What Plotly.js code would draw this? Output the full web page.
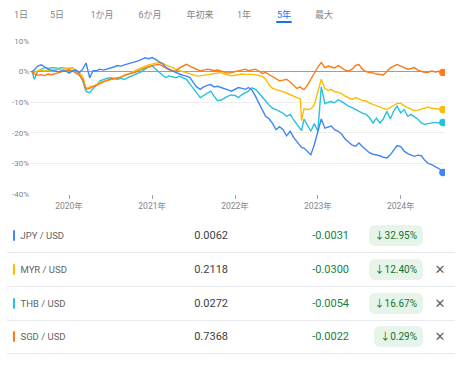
<!DOCTYPE html>
<html><head><meta charset="utf-8">
<script src="https://cdn.plot.ly/plotly-3.0.1.min.js"></script>
<style>
html,body{margin:0;padding:0;background:#fff;width:458px;height:372px;overflow:hidden;font-family:Roboto,'Noto Sans CJK JP',sans-serif;}
#chart{position:absolute;left:0;top:0;width:458px;height:220px;}
.tab{position:absolute;top:9px;font-size:9px;line-height:12px;color:#80868b;transform:translateX(-50%);white-space:nowrap;}
.tab.active{color:#1a73e8;}
#uline{position:absolute;left:276px;top:21px;width:16px;height:2px;background:#1a73e8;border-radius:1px;}
.row{position:absolute;left:7px;width:448px;height:33px;border-bottom:1px solid #e8eaed;}
.bar{position:absolute;left:6px;top:11px;width:2px;height:11px;border-radius:1px;}
.lab{position:absolute;left:13.5px;top:0;line-height:33px;font-size:9.5px;color:#5f6368;}
.price{position:absolute;right:227px;top:0;line-height:33px;font-size:11px;color:#3c4043;}
.chg{position:absolute;right:106px;top:0;line-height:33px;font-size:11px;color:#188038;}
.pill{position:absolute;right:32px;top:6px;height:21px;line-height:21px;padding:0 6px;background:#e6f4ea;border-radius:6px;font-size:10px;color:#137333;white-space:nowrap;}
.x{position:absolute;left:427px;width:12px;top:0;line-height:33px;text-align:center;font-size:13px;color:#5f6368;font-family:'DejaVu Sans',sans-serif;}
</style>
</head><body>
<div id="chart"></div>
<div id="tabs"></div>
<div id="uline"></div>
<div id="table"></div>
<script>
// ---- data ----
const dates = [
'2019-07-22','2019-08-01','2019-08-16','2019-09-01','2019-09-16','2019-10-01','2019-10-16','2019-11-01','2019-11-16','2019-12-01','2019-12-16',
'2020-01-01','2020-01-16','2020-02-01','2020-02-16','2020-03-01','2020-03-16','2020-04-01','2020-04-16','2020-05-01','2020-05-16','2020-06-01','2020-06-16','2020-07-01','2020-07-16','2020-08-01','2020-08-16','2020-09-01','2020-09-16','2020-10-01','2020-10-16','2020-11-01','2020-11-16','2020-12-01','2020-12-16',
'2021-01-01','2021-01-16','2021-02-01','2021-02-16','2021-03-01','2021-03-16','2021-04-01','2021-04-16','2021-05-01','2021-05-16','2021-06-01','2021-06-16','2021-07-01','2021-07-16','2021-08-01','2021-08-16','2021-09-01','2021-09-16','2021-10-01','2021-10-16','2021-11-01','2021-11-16','2021-12-01','2021-12-16',
'2022-01-01','2022-01-16','2022-02-01','2022-02-16','2022-03-01','2022-03-16','2022-04-01','2022-04-16','2022-05-01','2022-05-16','2022-06-01','2022-06-16','2022-07-01','2022-07-16','2022-08-01','2022-08-16','2022-09-01','2022-09-16','2022-10-01','2022-10-16','2022-10-21','2022-11-01','2022-11-16','2022-12-01','2022-12-16',
'2023-01-01','2023-01-16','2023-02-01','2023-02-16','2023-03-01','2023-03-16','2023-04-01','2023-04-16','2023-05-01','2023-05-16','2023-06-01','2023-06-16','2023-07-01','2023-07-16','2023-08-01','2023-08-16','2023-09-01','2023-09-16','2023-10-01','2023-10-16','2023-11-01','2023-11-16','2023-12-01','2023-12-16',
'2024-01-01','2024-01-16','2024-02-01','2024-02-16','2024-03-01','2024-03-16','2024-04-01','2024-04-16','2024-05-01','2024-05-16','2024-06-01','2024-06-16','2024-07-01','2024-07-05'
];
const jpy = [0,0.5,1.8,2.2,1.5,0.8,0.5,0.3,0,0.2,0.3,
-0.5,0.2,0.5,-0.3,0.8,2.8,-2.0,0.3,0.3,0.8,0.5,0.8,1.2,1.5,2.0,1.8,2.2,2.5,2.8,3.0,3.5,4.0,4.5,4.2,
4.6,4.0,3.2,2.5,1.5,0.8,0.2,-0.3,-0.8,-1.2,-1.5,-1.9,-3.5,-5.0,-5.8,-5.0,-4.5,-4.2,-5.0,-4.8,-5.2,-5.5,-6.0,-6.4,
-5.8,-5.2,-5.5,-5.8,-5.2,-6.0,-8.0,-10.5,-12.5,-14.6,-15.5,-17.0,-19.0,-18.0,-19.0,-21.0,-19.5,-21.5,-23.0,-24.4,-24.8,-25.0,-26.0,-27.2,-24.0,
-20.0,-15.5,-18.5,-18.0,-17.8,-19.0,-19.5,-20.5,-22.0,-23.0,-24.0,-24.4,-23.3,-24.5,-25.5,-26.5,-27.0,-27.2,-27.5,-28.0,-28.2,-27.2,-25.5,-24.2,
-24.5,-26.0,-26.8,-27.2,-27.7,-27.3,-27.5,-29.0,-30.0,-30.4,-31.0,-31.5,-32.3,-32.95];
const myr = [0,-0.3,0.3,0.5,0.2,0.5,0.3,0.6,0.8,0.5,1.0,
1.2,1.0,0.5,-0.5,-1.5,-5.5,-5.0,-4.8,-4.0,-3.5,-3.2,-3.0,-2.8,-2.5,-2.2,-1.8,-1.2,-0.8,-0.3,0.2,0.8,1.2,1.8,2.2,
2.4,2.8,3.0,2.8,2.2,1.8,1.2,0.8,0.3,0,-0.4,-0.9,-1.2,-1.4,-1.4,-1.2,-1.0,-0.9,-0.8,-0.5,-0.3,-0.8,-1.2,-1.4,
-1.2,-0.9,-0.8,-0.9,-0.8,-0.9,-1.0,-1.3,-1.6,-2.5,-4.5,-5.5,-5.8,-6.3,-6.6,-7.0,-7.5,-8.0,-8.5,-9.0,-16.0,-12.2,-12.4,-12.2,-11.0,
-7.0,-2.5,-5.5,-6.2,-5.8,-6.6,-6.8,-7.2,-8.0,-8.5,-9.1,-8.5,-9.0,-9.4,-9.6,-10.3,-10.7,-11.2,-11.6,-12.0,-12.4,-11.8,-11.0,-10.4,
-10.3,-11.2,-11.8,-12.4,-12.8,-12.6,-12.3,-11.8,-11.6,-12.0,-12.1,-12.2,-12.3,-12.4];
const thb = [0,-2.5,0.2,0.8,1.3,1.0,1.3,1.2,1.0,1.3,1.0,
0.8,1.2,0.3,-1.0,-3.0,-6.5,-6.9,-5.5,-4.5,-3.0,-2.5,-2.2,-2.0,-2.3,-2.5,-2.2,-2.6,-2.0,-1.5,-1.0,-0.5,0,0.8,1.5,
1.8,0.8,-0.3,-1.0,-2.0,-1.4,-1.8,-2.0,-1.5,-2.0,-2.5,-4.0,-5.5,-7.0,-8.5,-7.8,-7.0,-6.4,-8.0,-9.5,-9.3,-8.5,-8.0,-7.6,
-7.8,-8.5,-7.5,-6.9,-6.4,-5.3,-5.8,-7.0,-8.5,-9.6,-11.0,-12.0,-12.4,-13.0,-13.6,-14.6,-14.0,-15.7,-17.3,-19.0,-19.3,-15.5,-17.5,-19.5,-17.0,
-19.5,-5.0,-10.5,-10.0,-9.8,-10.2,-9.2,-9.8,-10.7,-11.3,-11.8,-12.4,-13.2,-13.6,-14.0,-15.0,-16.8,-15.2,-16.8,-15.5,-13.0,-15.5,-12.9,-11.3,
-13.5,-12.4,-14.6,-14.0,-14.8,-15.5,-16.8,-17.3,-17.0,-16.8,-16.6,-16.8,-16.7,-16.67];
const sgd = [0,-0.8,-1.2,-1.0,-1.3,-0.8,-1.0,-0.6,-0.3,0,0.3,
0.5,0.2,-0.5,-1.2,-2.5,-5.8,-5.5,-4.8,-4.5,-4.0,-3.2,-2.8,-2.5,-2.3,-2.0,-1.8,-1.2,-1.0,-0.6,-0.3,0.3,0.8,1.2,1.6,
2.0,2.2,2.4,1.8,1.2,0.6,0.3,0.2,1.2,1.8,2.4,1.8,1.2,0.6,0.2,0.5,0.8,0.6,0.3,0.5,0.2,-0.2,-0.5,-0.3,
0,0.3,0.5,0.8,0.3,0.5,0.8,0.2,-0.6,-0.3,-1.0,-1.5,-2.2,-3.0,-2.8,-2.5,-3.4,-4.5,-5.5,-5.0,-5.5,-5.8,-4.5,-2.5,-0.5,
1.5,3.0,1.3,1.8,1.5,1.2,2.0,1.3,0.5,0.2,0.8,2.0,2.3,0.8,0,-0.3,-0.4,-0.8,-1.0,-1.1,0,1.2,1.8,2.3,
1.8,1.3,0.8,1.0,1.3,0.5,0.2,-0.3,-0.2,0.2,-0.1,0.1,-0.2,-0.29];

const pairs   = ['JPY / USD','MYR / USD','THB / USD','SGD / USD'];
const prices  = ['0.0062','0.2118','0.0272','0.7368'];
const changes = ['-0.0031','-0.0300','-0.0054','-0.0022'];
const pcts    = ['32.95%','12.40%','16.67%','0.29%'];
const removable = [false,true,true,true];
const colors  = ['#4285f4','#fbbc04','#24c1e0','#fa7b17'];

const tabs = ['1日','5日','1か月','6か月','年初来','1年','5年','最大'];
const activeTab = '5年';
const yTickVals = [10,0,-10,-20,-30,-40];
const yTickText = ['10%','0%','-10%','-20%','-30%','-40%'];
const xTickVals = ['2020-01-01','2021-01-01','2022-01-01','2023-01-01','2024-01-01'];
const xTickText = ['2020年','2021年','2022年','2023年','2024年'];

// ---- layout helpers (positions, not data) ----
const tabCenters = [21,57,102,150,200,244,284,324];
const rowTops = [219,253,287,320];

const values = [jpy,myr,thb,sgd];
const order = [2,1,3,0];
const traces = [];
order.forEach(i=>{
  traces.push({x:dates,y:values[i],type:'scatter',mode:'lines',name:pairs[i],
    line:{color:colors[i],width:1.4},hoverinfo:'skip'});
});
order.forEach(i=>{
  const n = values[i].length-1;
  traces.push({x:[dates[n]],y:[values[i][n]],type:'scatter',mode:'markers',showlegend:false,
    marker:{color:colors[i],size:7.5},hoverinfo:'skip'});
});

const font = 'Roboto, "Noto Sans CJK JP", sans-serif';
const layout = {
  width:458,height:220,
  margin:{l:30,r:13,t:41,b:26},
  paper_bgcolor:'#fff',plot_bgcolor:'#fff',
  showlegend:false,
  font:{family:font,size:8,color:'#80868b'},
  xaxis:{type:'date',range:['2019-07-13','2024-07-14'],showgrid:false,zeroline:false,showline:false,
    tickvals:xTickVals,ticktext:xTickText,ticks:'outside',ticklen:4,tickwidth:1,tickcolor:'#9aa0a6',
    tickfont:{family:font,size:8.5,color:'#80868b'},fixedrange:true},
  yaxis:{range:[-40,10],tickvals:yTickVals,ticktext:yTickText,showgrid:true,gridcolor:'#eeeeee',gridwidth:1,
    zeroline:true,zerolinecolor:'#9e9e9e',zerolinewidth:1,showline:false,ticks:'',
    tickfont:{family:font,size:8,color:'#80868b'},fixedrange:true}
};
Plotly.newPlot('chart',traces,layout,{staticPlot:true,displayModeBar:false});

// tabs
const tabsDiv = document.getElementById('tabs');
tabs.forEach((t,i)=>{
  const s=document.createElement('div');
  s.className='tab'+(t===activeTab?' active':'');
  s.style.left=tabCenters[i]+'px';
  s.textContent=t;
  tabsDiv.appendChild(s);
});

// table
const table = document.getElementById('table');
pairs.forEach((p,i)=>{
  const r=document.createElement('div'); r.className='row'; r.style.top=rowTops[i]+'px';
  const b=document.createElement('div'); b.className='bar'; b.style.background=colors[i]; r.appendChild(b);
  const l=document.createElement('div'); l.className='lab'; l.textContent=p; r.appendChild(l);
  const v=document.createElement('div'); v.className='price'; v.textContent=prices[i]; r.appendChild(v);
  const c=document.createElement('div'); c.className='chg'; c.textContent=changes[i]; r.appendChild(c);
  const q=document.createElement('div'); q.className='pill'; q.textContent='↓'+pcts[i]; r.appendChild(q);
  if(removable[i]){const x=document.createElement('div'); x.className='x'; x.textContent='✕'; r.appendChild(x);}
  table.appendChild(r);
});
</script>
</body></html>
